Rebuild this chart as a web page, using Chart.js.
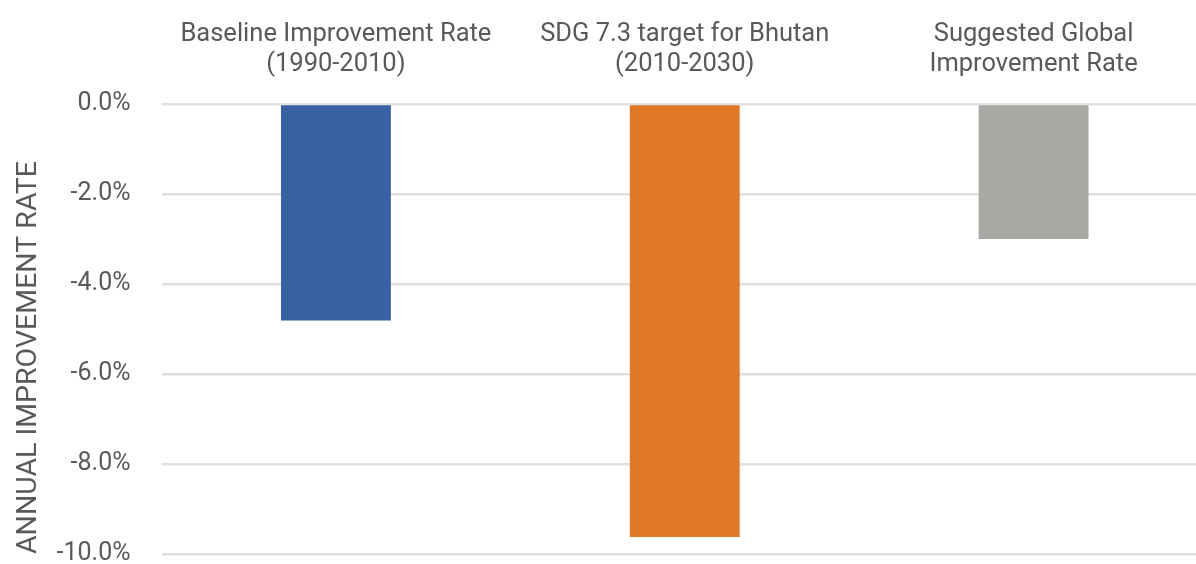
<!DOCTYPE html>
<html>
<head>
<meta charset="utf-8">
<script src="https://cdn.jsdelivr.net/npm/chart.js@4/dist/chart.umd.min.js"></script>
<style>
  html, body { margin: 0; padding: 0; background: #fff; overflow: hidden; }
  canvas { display: block; }
</style>
</head>
<body>
<canvas id="myChart" width="1210" height="600"></canvas>
<script>
const categories = [
  ['Baseline Improvement Rate', '(1990-2010)'],
  ['SDG 7.3 target for Bhutan', '(2010-2030)'],
  ['Suggested Global', 'Improvement Rate']
];
const rates = [-4.81, -9.62, -3.0];
const barColors = ['#3761A3', '#E07826', '#A9A8A4'];
const yTitle = 'ANNUAL IMPROVEMENT RATE';

const textFont = "'Roboto', sans-serif";

const ctx = document.getElementById('myChart').getContext('2d');
const myChart = new Chart(ctx, {
    type: 'bar',
    data: {
        labels: categories,
        datasets: [{
            data: rates,
            backgroundColor: barColors,
            barPercentage: 0.315,
            categoryPercentage: 1
        }]
    },
    options: {
        responsive: false,
        animation: false,
        layout: { padding: { top: 8, bottom: 44, left: 12, right: 2 } },
        plugins: {
            legend: { display: false },
            tooltip: { enabled: false }
        },
        scales: {
            x: {
                position: 'top',
                grid: { display: false },
                border: { display: false },
                ticks: {
                    color: '#595959',
                    font: { family: textFont, size: 25.5, lineHeight: 1.18 },
                    maxRotation: 0,
                    autoSkip: false,
                    padding: 16
                },
                afterFit: (scale) => { scale.height = 96; }
            },
            y: {
                min: -10,
                max: 0,
                border: { display: false },
                grid: { color: '#e0e0e0', lineWidth: 2.5, drawTicks: false },
                ticks: {
                    stepSize: 2,
                    color: '#595959',
                    font: { family: textFont, size: 25 },
                    padding: 31,
                    callback: (v) => v.toFixed(1) + '%'
                },
                title: {
                    display: true,
                    text: yTitle,
                    align: 'start',
                    color: '#595959',
                    font: { family: textFont, size: 28.5 },
                    padding: 0
                },
                afterFit: (scale) => { scale.width = 149.5; }
            }
        }
    }
});
</script>
</body>
</html>
